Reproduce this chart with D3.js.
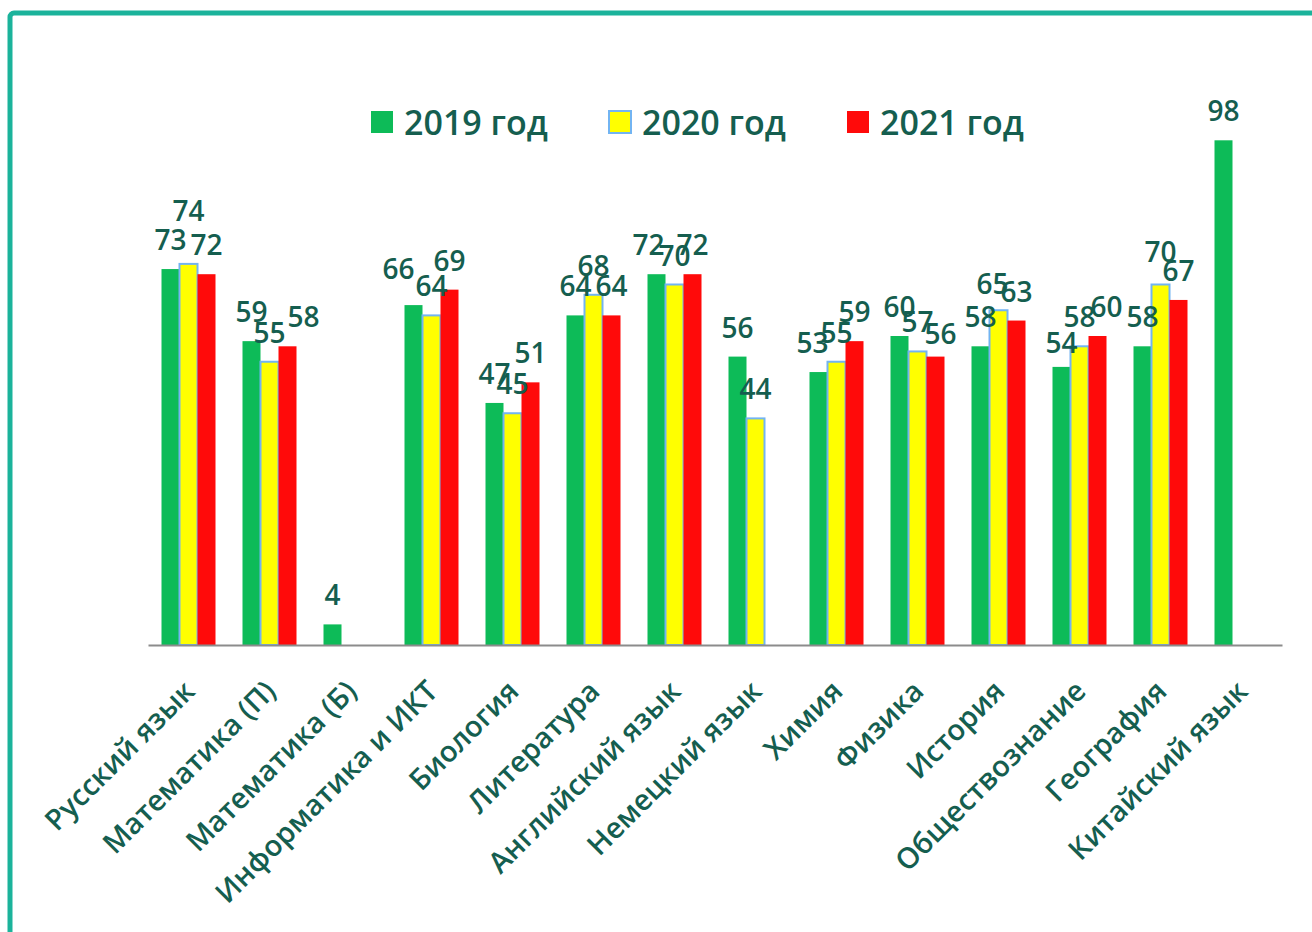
<!DOCTYPE html>
<html>
<head>
<meta charset="utf-8">
<script src="https://cdn.jsdelivr.net/npm/d3@7"></script>
<style>
  body { margin: 0; background: #fff; }
  svg { display: block; font-family: "Open Sans", sans-serif; }
</style>
</head>
<body>
<div id="chart"></div>
<script>
"use strict";

const subjects = [
  "Русский язык", "Математика (П)", "Математика (Б)", "Информатика и ИКТ",
  "Биология", "Литература", "Английский язык", "Немецкий язык",
  "Химия", "Физика", "История", "Обществознание", "География", "Китайский язык"
];
const years = ["2019 год", "2020 год", "2021 год"];
const values2019 = [73, 59, 4, 66, 47, 64, 72, 56, 53, 60, 58, 54, 58, 98];
const values2020 = [74, 55, null, 64, 45, 68, 70, 44, 55, 57, 65, 58, 70, null];
const values2021 = [72, 58, null, 69, 51, 64, 72, null, 59, 56, 63, 60, 67, null];

// label nudges where the source moved overlapping labels by hand
const labelNudge = {
  "Русский язык|2020 год": [0, -24],
  "Математика (П)|2021 год": [16, 0],
  "Информатика и ИКТ|2019 год": [-15, -7],
  "Английский язык|2019 год": [-8, 0],
  "Химия|2019 год": [-6, 0],
  "Физика|2021 год": [5, 6],
  "История|2020 год": [-6, 3],
  "Обществознание|2019 год": [0, 5],
  "Обществознание|2021 год": [9, 0],
  "География|2020 год": [0, -4]
};

const width = 1312, height = 932;
const textColor = "#155e4f";
const colors = {"2019 год": "#0dbb58", "2020 год": "#ffff00", "2021 год": "#ff0a0a"};

const series = [values2019, values2020, values2021];
const data = [];
subjects.forEach((s, i) => {
  years.forEach((yr, j) => {
    if (series[j][i] != null) data.push({subject: s, year: yr, value: series[j][i]});
  });
});

const svg = d3.select("#chart").append("svg")
  .attr("width", width)
  .attr("height", height);

// frame
svg.append("rect")
  .attr("x", 10).attr("y", 13)
  .attr("width", 1330).attr("height", 960)
  .attr("rx", 4)
  .attr("fill", "none")
  .attr("stroke", "#1bb39b")
  .attr("stroke-width", 5);

const x0 = d3.scaleBand()
  .domain(subjects)
  .range([148, 1282])
  .paddingInner(1 / 3)
  .paddingOuter(1 / 6);

const x1 = d3.scaleBand()
  .domain(years)
  .range([0, x0.bandwidth()]);

const y = d3.scaleLinear()
  .domain([0, 100])
  .range([645, 130]);

// bars
svg.append("g").selectAll("rect")
  .data(data)
  .join("rect")
  .attr("x", d => x0(d.subject) + x1(d.year))
  .attr("y", d => y(d.value))
  .attr("width", x1.bandwidth())
  .attr("height", d => y(0) - y(d.value))
  .attr("fill", d => colors[d.year])
  .attr("stroke", d => d.year === "2020 год" ? "#72b4f2" : "none")
  .attr("stroke-width", 2);

// data labels
svg.append("g").selectAll("text")
  .data(data)
  .join("text")
  .attr("x", d => x0(d.subject) + x1(d.year) + x1.bandwidth() / 2 + (labelNudge[d.subject + "|" + d.year] || [0, 0])[0])
  .attr("y", d => y(d.value) - 19 + (labelNudge[d.subject + "|" + d.year] || [0, 0])[1])
  .attr("text-anchor", "middle")
  .attr("fill", textColor)
  .attr("font-size", 28)
  .attr("font-weight", 600)
  .text(d => d.value);

// x axis
const xAxis = svg.append("g")
  .attr("transform", "translate(0," + y(0) + ")")
  .call(d3.axisBottom(x0).tickSize(0).tickSizeOuter(0));

xAxis.select(".domain")
  .attr("stroke", "#8c8c8c")
  .attr("stroke-width", 2);

xAxis.selectAll("text")
  .attr("fill", textColor)
  .attr("font-size", 29)
  .attr("font-weight", 600)
  .attr("font-family", "'Open Sans', sans-serif")
  .attr("text-anchor", "end")
  .attr("dy", null)
  .attr("y", 0)
  .attr("transform", "translate(8,48) rotate(-45)");

// legend
const legend = svg.append("g")
  .selectAll("g")
  .data(years)
  .join("g")
  .attr("transform", (d, i) => "translate(" + (371 + i * 238) + ",111)");

legend.append("rect")
  .attr("width", 22)
  .attr("height", 22)
  .attr("fill", d => colors[d])
  .attr("stroke", d => d === "2020 год" ? "#72b4f2" : "none")
  .attr("stroke-width", 2);

legend.append("text")
  .attr("x", 33)
  .attr("y", 24)
  .attr("fill", textColor)
  .attr("font-size", 34)
  .attr("font-weight", 600)
  .text(d => d);
</script>
</body>
</html>
